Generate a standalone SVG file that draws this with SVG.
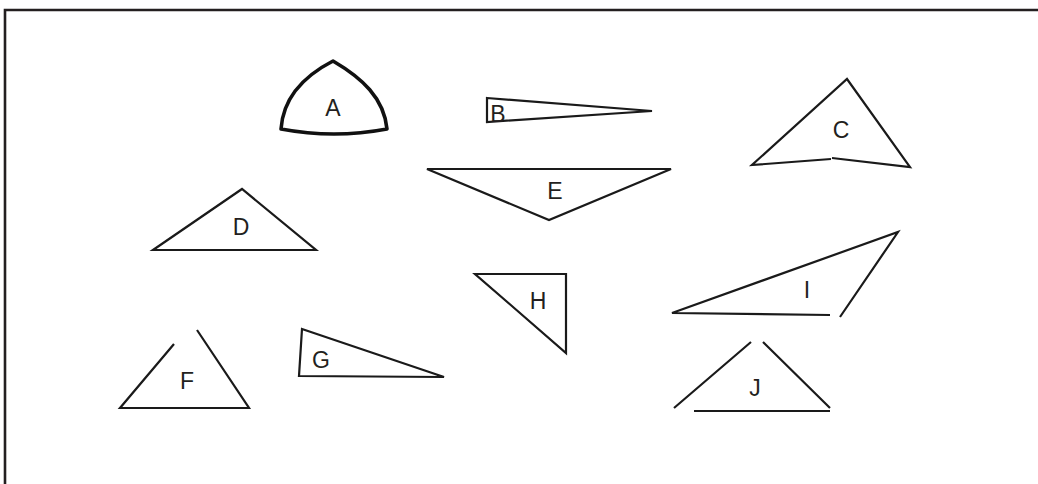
<svg xmlns="http://www.w3.org/2000/svg" width="1038" height="484" viewBox="0 0 1038 484">
<style>
.s{fill:none;stroke:#1a1a1a;stroke-width:2.2;stroke-linejoin:miter;stroke-linecap:butt}
.t{font-family:"Liberation Sans",Arial,sans-serif;font-size:23px;fill:#231f20;text-anchor:middle}
</style>
<rect width="1038" height="484" fill="#fff"/>
<path d="M5,484 V10 H1038" fill="none" stroke="#231f20" stroke-width="2.6"/>
<g id="A">
<path d="M281,129 C283,100 300,78 333,61 C362,78 384,98 387,129 Q334,139 281,129 Z" fill="none" stroke="#111" stroke-width="3.6" stroke-linejoin="round"/>
<text class="t" x="333" y="116">A</text>
</g>
<g id="B">
<path class="s" d="M487,98 L652,111 L487,122 Z"/>
<text class="t" x="498" y="122">B</text>
</g>
<g id="C">
<path class="s" d="M831,159 L752,165 L847,79 L910,167 L832,158"/>
<text class="t" x="841" y="138">C</text>
</g>
<g id="D">
<path class="s" d="M153,250 L242,189 L316,250 Z"/>
<text class="t" x="241" y="235">D</text>
</g>
<g id="E">
<path class="s" d="M427,169 L671,169 L549,220 Z"/>
<text class="t" x="555" y="199">E</text>
</g>
<g id="F">
<path class="s" d="M174,344 L120,408 L249,408 L197,330"/>
<text class="t" x="187" y="389">F</text>
</g>
<g id="G">
<path class="s" d="M302,329 L444,377 L299,376 Z"/>
<text class="t" x="321" y="368">G</text>
</g>
<g id="H">
<path class="s" d="M475,274 L566,274 L566,353 Z"/>
<text class="t" x="538" y="309">H</text>
</g>
<g id="I">
<path class="s" d="M830,315 L672,313 L898,232 L840,317"/>
<text class="t" x="807" y="298">I</text>
</g>
<g id="J">
<path class="s" d="M674,408 L751,342 M763,342 L830,408 M694,411 L830,411"/>
<text class="t" x="755" y="396">J</text>
</g>
</svg>
